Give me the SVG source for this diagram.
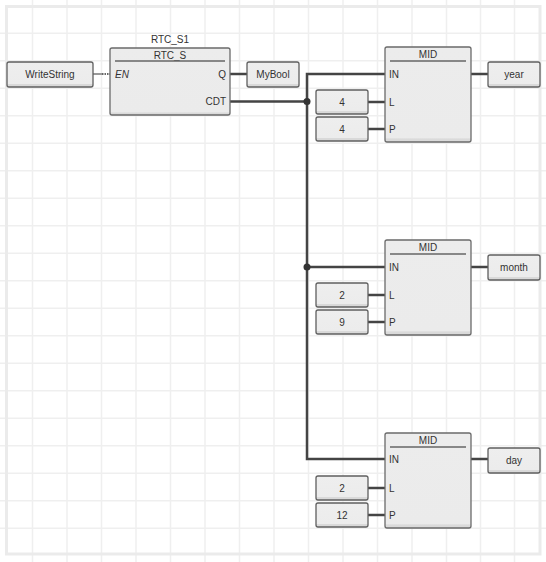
<svg xmlns="http://www.w3.org/2000/svg" width="546" height="562" viewBox="0 0 546 562">
<style>
.g{stroke:#efefef;stroke-width:1.5}
.box{fill:url(#bf);stroke:#5f5f5f;stroke-width:1.3}
.blk{fill:url(#kf);stroke:#6a6a6a;stroke-width:1.3}
.t{font-family:"Liberation Sans",Arial,sans-serif;font-size:10px;fill:#333}
.c{text-anchor:middle}
.r{text-anchor:end}
.w{stroke:#444;stroke-width:2.5;fill:none}
.ul{stroke:#666;stroke-width:1.5}
</style>
<defs>
<linearGradient id="bf" x1="0" y1="0" x2="0" y2="1">
<stop offset="0" stop-color="#eeeeee"/><stop offset="0.86" stop-color="#ececec"/><stop offset="0.87" stop-color="#d9d9d9"/><stop offset="1" stop-color="#d9d9d9"/>
</linearGradient>
<linearGradient id="kf" x1="0" y1="0" x2="0" y2="1">
<stop offset="0" stop-color="#ececec"/><stop offset="0.96" stop-color="#ebebeb"/><stop offset="0.965" stop-color="#dadada"/><stop offset="1" stop-color="#dadada"/>
</linearGradient>
</defs>
<rect x="0" y="0" width="546" height="562" fill="#ffffff"/>
<g id="grid">
<path class="g" d="M32.5 0V562M67 0V562M101.5 0V562M136 0V562M170.5 0V562M205 0V562M239.5 0V562M274 0V562M308.5 0V562M343 0V562M377.5 0V562M412 0V562M446.5 0V562M480.5 0V562M514.5 0V562"/>
<path class="g" d="M0 33.2H546M0 60.7H546M0 88.2H546M0 115.7H546M0 143.2H546M0 170.7H546M0 198.2H546M0 225.7H546M0 253.2H546M0 280.7H546M0 308.2H546M0 335.7H546M0 363.2H546M0 390.7H546M0 418.2H546M0 445.7H546M0 473.2H546M0 500.7H546M0 528.2H546"/>
<rect x="6.5" y="6.5" width="533.5" height="547.5" fill="none" stroke="#ebebeb" stroke-width="3"/>
</g>
<g id="connectors">
<line x1="93" y1="74" x2="102" y2="74" stroke="#999" stroke-width="2"/>
<line x1="102" y1="74" x2="110" y2="74" stroke="#666" stroke-width="2" stroke-dasharray="1.5,1"/>
<line class="w" x1="230" y1="74" x2="247" y2="74"/>
<path class="w" d="M230 101.5H307M385 74H307V459H385M307 267H385"/>
<circle cx="307" cy="101.5" r="3.5" fill="#333"/>
<circle cx="307" cy="267" r="3.5" fill="#333"/>
<path class="w" d="M368 102H385M368 129H385M471 74H488M368 295H385M368 322H385M471 267H488M368 488H385M368 515H385M471 459H488"/>
</g>
<g id="writestring"><rect class="box" x="7" y="62" width="86" height="25" rx="2"/><text class="t c" x="50" y="78">WriteString</text></g>
<g id="rtc_s1">
<text class="t c" x="170" y="43">RTC_S1</text>
<rect class="blk" x="110" y="48" width="120" height="67" rx="2"/>
<text class="t c" x="170" y="58.5">RTC_S</text>
<line class="ul" x1="115" y1="61" x2="225" y2="61"/>
<text class="t" x="115" y="78" font-style="italic">EN</text>
<text class="t r" x="226" y="78">Q</text>
<text class="t r" x="226" y="105">CDT</text>
</g>
<g id="mybool"><rect class="box" x="247" y="62" width="52" height="25" rx="2"/><text class="t c" x="273" y="78">MyBool</text></g>
<g id="mid1">
<rect class="blk" x="385" y="47" width="86" height="95" rx="2"/>
<text class="t c" x="428" y="57.5">MID</text>
<line class="ul" x1="390" y1="61" x2="466" y2="61"/>
<text class="t" x="389" y="78">IN</text><text class="t" x="389" y="106">L</text><text class="t" x="389" y="133">P</text>
</g>
<g id="c4a"><rect class="box" x="316" y="90" width="52" height="24" rx="2"/><text class="t c" x="342" y="105.5">4</text></g>
<g id="c4b"><rect class="box" x="316" y="117" width="52" height="24" rx="2"/><text class="t c" x="342" y="132.5">4</text></g>
<g id="year"><rect class="box" x="488" y="62" width="52" height="25" rx="2"/><text class="t c" x="514" y="78">year</text></g>
<g id="mid2">
<rect class="blk" x="385" y="240" width="86" height="95" rx="2"/>
<text class="t c" x="428" y="250.5">MID</text>
<line class="ul" x1="390" y1="254" x2="466" y2="254"/>
<text class="t" x="389" y="271">IN</text><text class="t" x="389" y="299">L</text><text class="t" x="389" y="326">P</text>
</g>
<g id="c2a"><rect class="box" x="316" y="283" width="52" height="24" rx="2"/><text class="t c" x="342" y="298.5">2</text></g>
<g id="c9"><rect class="box" x="316" y="310" width="52" height="24" rx="2"/><text class="t c" x="342" y="325.5">9</text></g>
<g id="month"><rect class="box" x="488" y="255" width="52" height="25" rx="2"/><text class="t c" x="514" y="271">month</text></g>
<g id="mid3">
<rect class="blk" x="385" y="433" width="86" height="95" rx="2"/>
<text class="t c" x="428" y="443.5">MID</text>
<line class="ul" x1="390" y1="447" x2="466" y2="447"/>
<text class="t" x="389" y="463">IN</text><text class="t" x="389" y="492">L</text><text class="t" x="389" y="519">P</text>
</g>
<g id="c2b"><rect class="box" x="316" y="476" width="52" height="24" rx="2"/><text class="t c" x="342" y="491.5">2</text></g>
<g id="c12"><rect class="box" x="316" y="503" width="52" height="24" rx="2"/><text class="t c" x="342" y="518.5">12</text></g>
<g id="day"><rect class="box" x="488" y="448" width="52" height="25" rx="2"/><text class="t c" x="514" y="464">day</text></g>
</svg>
